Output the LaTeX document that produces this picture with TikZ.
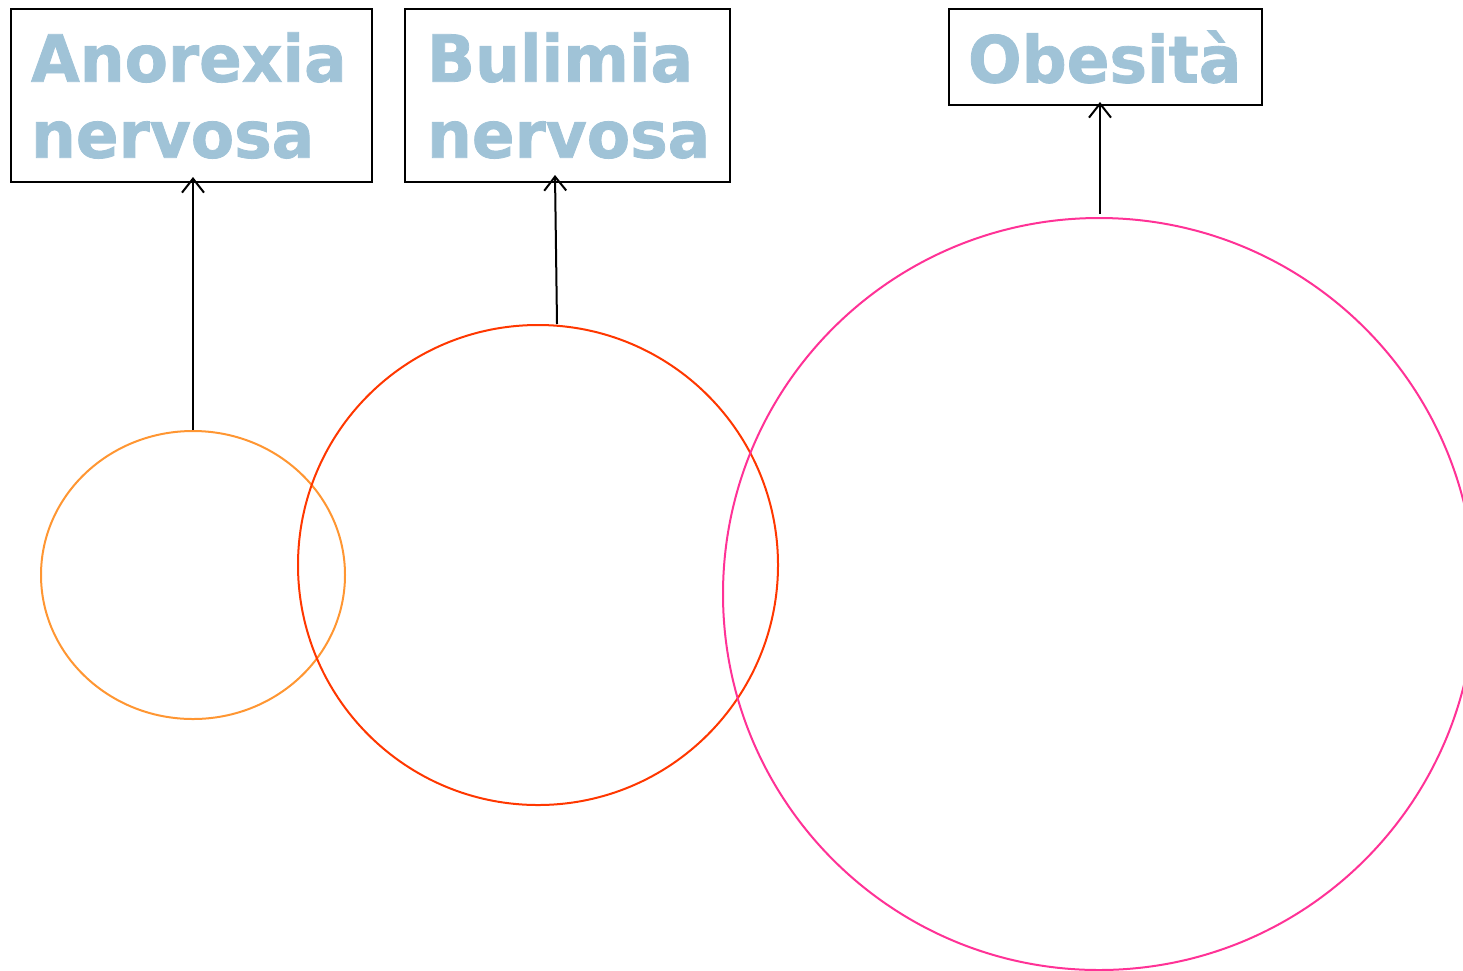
\documentclass[tikz,border=0pt]{standalone}
\usepackage{fontspec}
\newfontfamily\labfont[FakeStretch=0.97,FakeBold=1.2]{DejaVu Sans Bold}
\usetikzlibrary{shapes.geometric,arrows.meta}
\definecolor{labblue}{RGB}{160,195,215}
\definecolor{corange}{RGB}{255,150,50}
\definecolor{cred}{RGB}{255,55,0}
\definecolor{cpink}{RGB}{255,50,150}
\tikzset{
  labbox/.style={draw=black, line width=2pt, rectangle, anchor=north west, align=left,
    inner ysep=0pt, text=labblue, font=\labfont\fontsize{65pt}{76pt}\selectfont},
  ring/.style={draw, line width=2pt, ellipse, inner sep=0pt},
  link/.style={draw=black, line width=2pt, -{Straight Barb[length=14pt,width=22pt,line width=2pt]}}
}
\begin{document}
\begin{tikzpicture}[x=1pt,y=-1pt]
\useasboundingbox (0,0) rectangle (1463,970);
\clip (0,0) rectangle (1463,970);
\node[labbox, minimum height=173pt, inner xsep=20pt, text width=321pt] (anobox) at (10,8) {Anorexia\\nervosa};
\node[labbox, minimum height=173pt, inner xsep=22pt, text width=281pt] (bulbox) at (404,8) {Bulimia\\nervosa};
\node[labbox, minimum height=96pt, inner xsep=19pt, text width=275pt] (obebox) at (948,8) {Obesità};
\node[ring, draw=corange, minimum width=304pt, minimum height=288pt] (ano) at (193,575) {};
\node[ring, draw=cred, minimum width=480pt, minimum height=480pt] (bul) at (538,565) {};
\node[ring, draw=cpink, minimum width=752pt, minimum height=752pt] (obe) at (1099,594) {};
\coordinate (bulstart) at (557,324);
\coordinate (bulend) at (555,175);
\coordinate (obestart) at (1100,214);
\draw[link, shorten >=-6pt] (ano.north) -- (ano.north |- anobox.south);
\draw[link] (bulstart) -- (bulend);
\draw[link, shorten >=-4pt] (obestart) -- (obestart |- obebox.south);
\end{tikzpicture}
\end{document}
